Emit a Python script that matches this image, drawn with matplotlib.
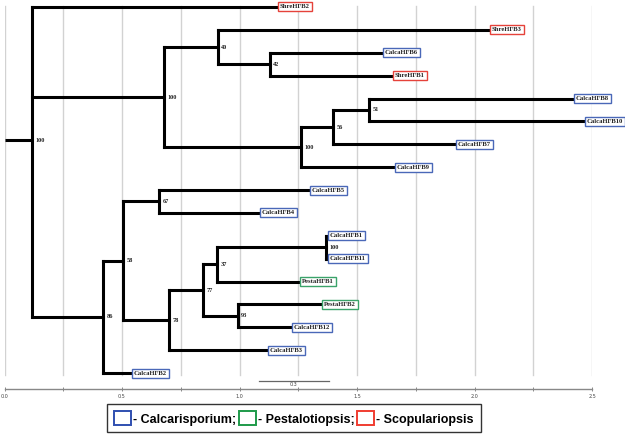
import numpy as np
import matplotlib
matplotlib.use("Agg")
import matplotlib.pyplot as plt
from matplotlib.patches import Patch

# tips, top to bottom
tip_names = ['ShreHFB2', 'ShreHFB3', 'CalcaHFB6', 'ShreHFB1', 'CalcaHFB8', 'CalcaHFB10',
             'CalcaHFB7', 'CalcaHFB9', 'CalcaHFB5', 'CalcaHFB4', 'CalcaHFB1', 'CalcaHFB11',
             'PestaHFB1', 'PestaHFB2', 'CalcaHFB12', 'CalcaHFB3', 'CalcaHFB2']
tip_x = [1.159, 2.060, 1.605, 1.648, 2.417, 2.464, 1.915, 1.656, 1.295, 1.082, 1.371, 1.371,
         1.252, 1.346, 1.218, 1.116, 0.538]
tip_group = ['S', 'S', 'C', 'S', 'C', 'C', 'C', 'C', 'C', 'C', 'C', 'C', 'P', 'P', 'C', 'C', 'C']
tip_parent = ['root', 'n40', 'n42', 'n42', 'n51', 'n51', 'n56', 'n100b', 'n67', 'n67',
              'n100c', 'n100c', 'n37', 'n93', 'n93', 'n78', 'n86']

# internal nodes
node_names = ['root', 'n100a', 'n40', 'n42', 'n100b', 'n56', 'n51', 'n86', 'n58', 'n67',
              'n78', 'n77', 'n37', 'n100c', 'n93']
node_x = [0.117, 0.678, 0.908, 1.129, 1.261, 1.397, 1.550, 0.419, 0.504, 0.657,
          0.699, 0.844, 0.904, 1.367, 0.993]
node_support = [100, 100, 40, 42, 100, 56, 51, 86, 58, 67, 78, 77, 37, 100, 93]
node_parent = [None, 'root', 'n100a', 'n40', 'n100a', 'n100b', 'n56', 'root', 'n86', 'n58',
               'n58', 'n78', 'n77', 'n37', 'n77']

group_colors = {'C': '#4a68b8', 'P': '#3aa36a', 'S': '#e5423a'}
legend_labels = ['- Calcarisporium;', '- Pestalotiopsis;', '- Scopulariopsis']
legend_colors = ['#2f4fb0', '#1e9a4a', '#f03c30']

# build child lists and y positions
children = {n: [] for n in node_names}
xpos, ypos = {}, {}
for i, n in enumerate(tip_names):
    children[tip_parent[i]].append(n)
    xpos[n] = tip_x[i]
    ypos[n] = i
for n, p, x in zip(node_names, node_parent, node_x):
    xpos[n] = x
    if p is not None:
        children[p].append(n)


def get_y(n):
    if n in ypos:
        return ypos[n]
    ypos[n] = np.mean([get_y(c) for c in children[n]])
    return ypos[n]


get_y('root')

fig = plt.figure(figsize=(6.25, 4.37), dpi=100)
ax = fig.add_axes([0.0072, 0.1098, 0.94, 0.8902])
ax.set_xlim(0, 2.5)
ax.set_ylim(16.70, -0.306)

# grid lines
for g in np.arange(0, 2.51, 0.25):
    ax.plot([g, g], [-0.05, 16.08], color='#d2d2d2', lw=1, zorder=0)

lw = 2.2
# root stub
ax.plot([0, xpos['root']], [ypos['root'], ypos['root']], color='black', lw=lw,
        solid_capstyle='butt')
for n in node_names:
    ys = [ypos[c] for c in children[n]]
    ax.plot([xpos[n], xpos[n]], [min(ys), max(ys)], color='black', lw=lw,
            solid_capstyle='projecting')
    for c in children[n]:
        ax.plot([xpos[n], xpos[c]], [ypos[c], ypos[c]], color='black', lw=lw,
                solid_capstyle='projecting')

for n, s in zip(node_names, node_support):
    ax.annotate(str(s), (xpos[n], ypos[n]), xytext=(2.5, 0), textcoords='offset points',
                ha='left', va='center', fontsize=4.5, fontweight='bold',
                family='Liberation Serif', color='#222222')

for i, n in enumerate(tip_names):
    ax.annotate(n, (tip_x[i], i), xytext=(2.2, 0), textcoords='offset points',
                ha='left', va='center', fontsize=4.8, fontweight='bold',
                family='Liberation Serif', color='#222222',
                bbox=dict(boxstyle='square,pad=0.3', fc='white',
                          ec=group_colors[tip_group[i]], lw=1.0))

# scale bar
ax.plot([1.082, 1.380], [16.35, 16.35], color='#666666', lw=0.9)
ax.text(1.231, 16.52, '0.3', ha='center', va='center', fontsize=3.5, color='#444444')

for s in ['top', 'left', 'right']:
    ax.spines[s].set_visible(False)
ax.spines['bottom'].set_color('#888888')
ax.spines['bottom'].set_linewidth(1)
ax.set_yticks([])
ax.set_xticks(np.arange(0, 2.51, 0.5))
ax.set_xticks(np.arange(0, 2.51, 0.25), minor=True)
ax.set_xticklabels(['0.0', '0.5', '1.0', '1.5', '2.0', '2.5'])
ax.tick_params(axis='x', which='both', direction='inout', length=3, width=0.7,
               color='#888888', labelsize=3.5, labelcolor='#444444', pad=2)

handles = [Patch(facecolor='white', edgecolor=c, lw=1.4) for c in legend_colors]
leg = fig.legend(handles, legend_labels, loc='center', bbox_to_anchor=(0.47, 0.0425),
                 ncol=3, fancybox=False, edgecolor='black', handlelength=1.35,
                 handleheight=1.35, handletextpad=0.15, columnspacing=0.25,
                 borderpad=0.55, borderaxespad=0,
                 prop={'family': 'Liberation Sans', 'weight': 'bold', 'size': 9})
leg.get_frame().set_linewidth(1.0)

fig.savefig('out.png', dpi=100)
